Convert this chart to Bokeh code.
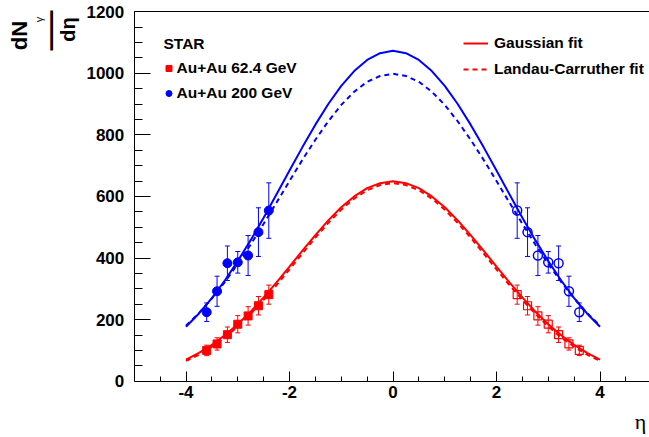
import math
import numpy as np
from bokeh.plotting import figure
from bokeh.models import (ColumnDataSource, Whisker, TeeHead, Label, Legend,
                          LegendItem, FixedTicker, Range1d, LinearAxis)
from bokeh.embed import file_html
from bokeh.resources import INLINE

# ---------------- data ----------------
eta_left = [-3.6, -3.4, -3.2, -3.0, -2.8, -2.6, -2.4]
eta_right = [2.4, 2.6, 2.8, 3.0, 3.2, 3.4, 3.6]

au62_left = [100, 121, 151, 185, 212, 245, 281]
au62_left_err = [17, 20, 25, 28, 30, 30, 31]
au62_right = [281, 245, 212, 185, 151, 121, 100]
au62_right_err = [31, 30, 30, 28, 25, 20, 17]

au200_left = [224, 292, 383, 386, 408, 484, 554]
au200_left_err = [30, 49, 56, 35, 65, 79, 90]
au200_right = [554, 484, 408, 386, 383, 292, 224]
au200_right_err = [90, 79, 65, 35, 56, 49, 30]

curve_eta = [-4.0, -3.75, -3.5, -3.25, -3.0, -2.75, -2.5, -2.25, -2.0, -1.75, -1.5,
             -1.25, -1.0, -0.75, -0.5, -0.25, 0.0, 0.25, 0.5, 0.75, 1.0, 1.25, 1.5,
             1.75, 2.0, 2.25, 2.5, 2.75, 3.0, 3.25, 3.5, 3.75, 4.0]
gauss_200 = [177, 220, 270, 327, 390, 458, 531, 607, 684, 760, 833, 900, 959, 1007, 1043,
             1065, 1073, 1065, 1043, 1007, 959, 900, 833, 760, 684, 607, 531, 458, 390,
             327, 270, 220, 177]
landau_200 = [180, 221, 269, 322, 381, 444, 511, 580, 650, 719, 784, 844, 897, 940, 972,
              991, 998, 991, 972, 940, 897, 844, 784, 719, 650, 580, 511, 444, 381, 322,
              269, 221, 180]
gauss_62 = [70, 92, 118, 149, 185, 226, 272, 321, 372, 424, 474, 522, 565, 600, 627, 643,
            649, 643, 627, 600, 565, 522, 474, 424, 372, 321, 272, 226, 185, 149, 118, 92, 70]
landau_62 = [66, 86, 112, 142, 178, 219, 264, 312, 363, 415, 466, 514, 557, 593, 620, 637,
             643, 637, 620, 593, 557, 514, 466, 415, 363, 312, 264, 219, 178, 142, 112, 86, 66]

x_major = [-4, -2, 0, 2, 4]
y_major = [0, 200, 400, 600, 800, 1000, 1200]
x_bounds = (-5, 5)
y_bounds = (0, 1200)

RED = "#ff0000"
BLUE = "#0000ff"
FONT = "Liberation Sans"

# ---------------- layout: frame covers whole canvas, axes fixed inside ----------------
W, H = 649, 437
X0_PX, XPX = 392.5, 51.75        # pixel of eta=0, pixels per unit eta
Y0_PX, YPX = 380.7, 369.6 / 1200  # pixel of y=0, pixels per unit y


def px2x(px):
    return (px - X0_PX) / XPX


def py2y(py):
    return (Y0_PX - py) / YPX


p = figure(width=W, height=H, output_backend="svg", toolbar_location=None,
           x_range=Range1d(px2x(0), px2x(W)), y_range=Range1d(py2y(H), py2y(0)),
           min_border=0)
p.outline_line_color = None
p.xgrid.visible = False
p.ygrid.visible = False
p.background_fill_color = "white"
p.border_fill_color = "white"

p.xaxis.fixed_location = 0
p.yaxis.fixed_location = x_bounds[0]
p.xaxis.bounds = x_bounds
p.yaxis.bounds = y_bounds

p.xaxis.ticker = FixedTicker(ticks=x_major, minor_ticks=list(np.arange(-4.5, 5.01, 0.5)))
p.yaxis.ticker = FixedTicker(ticks=y_major, minor_ticks=list(np.arange(50, 1200, 50)))
p.xaxis.major_label_overrides = {v: str(v) for v in x_major}
for ax in (p.xaxis[0], p.yaxis[0]):
    ax.axis_line_color = "black"
    ax.axis_line_width = 1
    ax.major_tick_out = 0
    ax.minor_tick_out = 0
    ax.major_tick_line_color = "black"
    ax.minor_tick_line_color = "black"
    ax.major_label_text_font = FONT
    ax.major_label_text_font_style = "bold"
    ax.major_label_text_font_size = "17px"
    ax.major_label_text_color = "black"
p.xaxis.major_tick_in = 10
p.xaxis.minor_tick_in = 5
p.xaxis.major_label_standoff = 5
p.yaxis.major_tick_in = 16
p.yaxis.minor_tick_in = 8
p.yaxis.major_label_standoff = 10

top_axis = LinearAxis(fixed_location=y_bounds[1], bounds=x_bounds,
                      ticker=FixedTicker(ticks=[], minor_ticks=[]),
                      major_tick_in=0, major_tick_out=0, minor_tick_in=0, minor_tick_out=0,
                      major_label_text_font_size="0px", axis_line_color="black")
p.add_layout(top_axis, "above")

# ---------------- fit curves ----------------
r_g200 = p.line(curve_eta, gauss_200, line_color=BLUE, line_width=2)
r_l200 = p.line(curve_eta, landau_200, line_color=BLUE, line_width=2, line_dash="5 4")
r_g62 = p.line(curve_eta, gauss_62, line_color=RED, line_width=2)
r_l62 = p.line(curve_eta, landau_62, line_color=RED, line_width=2, line_dash="5 4")


# ---------------- data points with error bars ----------------
def add_errors(xs, ys, es, color):
    src = ColumnDataSource(dict(x=xs, upper=[y + e for y, e in zip(ys, es)],
                                lower=[y - e for y, e in zip(ys, es)]))
    w = Whisker(base="x", upper="upper", lower="lower", source=src, dimension="height",
                line_color=color, line_width=1,
                upper_head=TeeHead(size=5, line_color=color, line_width=1),
                lower_head=TeeHead(size=5, line_color=color, line_width=1))
    p.add_layout(w)


add_errors(eta_left, au62_left, au62_left_err, RED)
add_errors(eta_right, au62_right, au62_right_err, RED)
add_errors(eta_left, au200_left, au200_left_err, BLUE)
add_errors(eta_right, au200_right, au200_right_err, BLUE)

r_62 = p.scatter(eta_left, au62_left, marker="square", size=8, fill_color=RED, line_color=RED)
p.scatter(eta_right, au62_right, marker="square", size=8, fill_color=None,
          line_color=RED, line_width=1.2)
r_200 = p.scatter(eta_left, au200_left, marker="circle", size=9, fill_color=BLUE, line_color=BLUE)
p.scatter(eta_right, au200_right, marker="circle", size=9, fill_color=None,
          line_color=BLUE, line_width=1.5)


# ---------------- legends ----------------
def style_legend(lg):
    lg.label_text_font = FONT
    lg.label_text_font_style = "bold"
    lg.label_text_font_size = "15.5px"
    lg.label_text_color = "black"
    lg.padding = 0
    lg.margin = 0
    lg.border_line_color = None
    lg.background_fill_alpha = 0


leg1 = Legend(items=[LegendItem(label="Au+Au 62.4 GeV", renderers=[r_62]),
                     LegendItem(label="Au+Au 200 GeV", renderers=[r_200])],
              location=(160.5, H - 102.7), glyph_width=15, glyph_height=20, label_height=20,
              label_standoff=1, spacing=5)
style_legend(leg1)
p.add_layout(leg1)

leg2 = Legend(items=[LegendItem(label="Gaussian fit", renderers=[r_g62]),
                     LegendItem(label="Landau-Carruther fit", renderers=[r_l62])],
              location=(463, H - 79.3), glyph_width=25, glyph_height=20, label_height=20,
              label_standoff=6, spacing=6)
style_legend(leg2)
p.add_layout(leg2)

p.add_layout(Label(x=px2x(163), y=py2y(43), text="STAR", text_font=FONT,
                   text_font_style="bold", text_font_size="15.5px", text_color="black",
                   text_align="left", text_baseline="middle"))

# ---------------- axis titles ----------------
p.add_layout(Label(x=px2x(19), y=py2y(35), text="dN", angle=math.pi / 2,
                   text_font=FONT, text_font_style="bold", text_font_size="22px",
                   text_color="black", text_align="center", text_baseline="middle"))
p.add_layout(Label(x=px2x(38), y=py2y(19), text="γ", angle=math.pi / 2,
                   text_font=FONT, text_font_size="11px", text_color="black",
                   text_align="center", text_baseline="middle"))
p.add_layout(Label(x=px2x(47.5), y=py2y(30), text="—", angle=math.pi / 2,
                   text_font=FONT, text_font_size="40px", text_color="black",
                   text_align="center", text_baseline="middle"))
p.add_layout(Label(x=px2x(67), y=py2y(29), text="dη", angle=math.pi / 2,
                   text_font=FONT, text_font_style="bold", text_font_size="20px",
                   text_color="black", text_align="center", text_baseline="middle"))
p.add_layout(Label(x=px2x(640), y=py2y(421), text="η",
                   text_font="Liberation Serif", text_font_size="22px", text_color="black",
                   text_align="center", text_baseline="middle"))

open("out.html", "w").write(file_html(p, INLINE))
